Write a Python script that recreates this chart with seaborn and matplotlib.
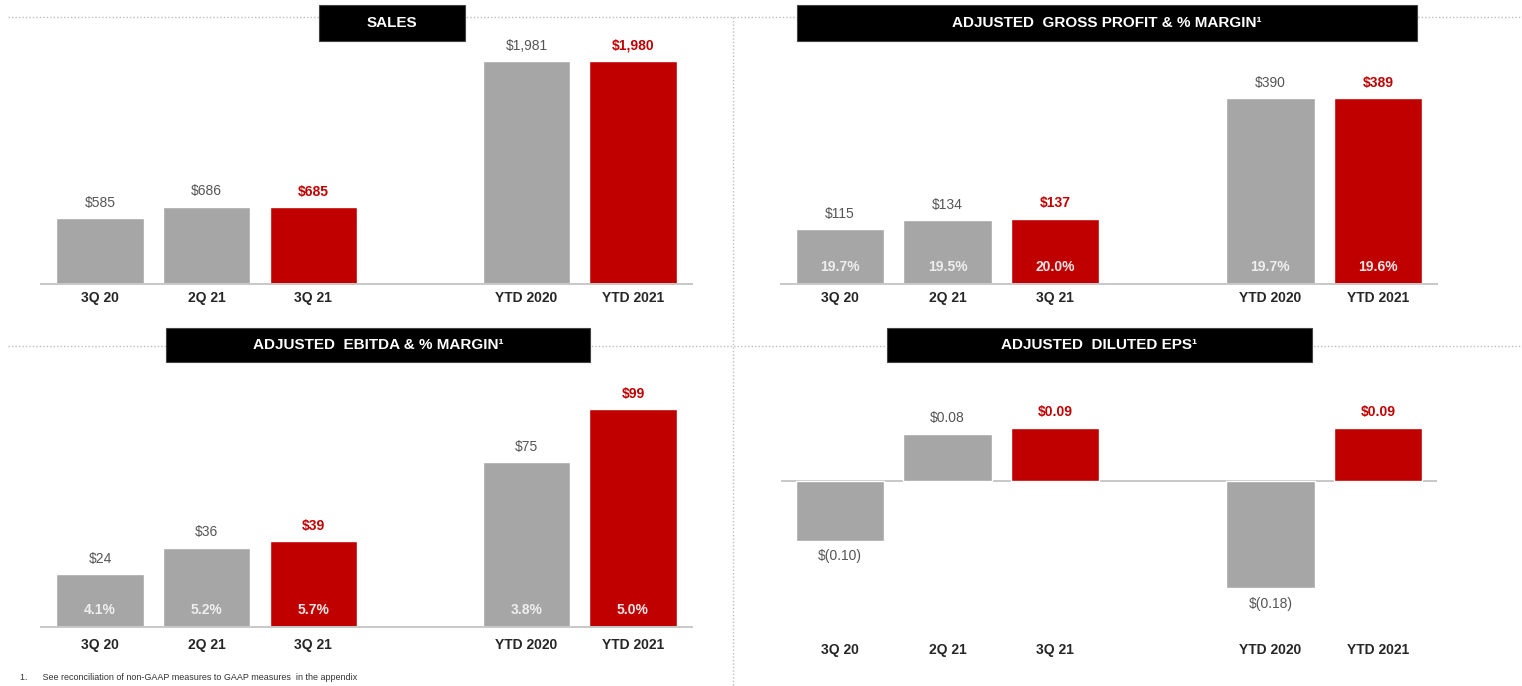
import matplotlib
matplotlib.use("Agg")
import matplotlib.pyplot as plt
import seaborn as sns
import pandas as pd
from matplotlib import font_manager
from matplotlib.patches import Rectangle
from matplotlib.lines import Line2D

# ---------------- data ----------------
categories = ["3Q 20", "2Q 21", "3Q 21", "YTD 2020", "YTD 2021"]
highlight = [False, False, True, False, True]

sales = [585, 686, 685, 1981, 1980]
sales_labels = ["$585", "$686", "$685", "$1,981", "$1,980"]

gross_profit = [115, 134, 137, 390, 389]
gross_labels = ["$115", "$134", "$137", "$390", "$389"]
gross_margin = ["19.7%", "19.5%", "20.0%", "19.7%", "19.6%"]

ebitda = [24, 36, 39, 75, 99]
ebitda_labels = ["$24", "$36", "$39", "$75", "$99"]
ebitda_margin = ["4.1%", "5.2%", "5.7%", "3.8%", "5.0%"]

eps = [-0.10, 0.08, 0.09, -0.18, 0.09]
eps_labels = ["$(0.10)", "$0.08", "$0.09", "$(0.18)", "$0.09"]

titles = ["SALES", "ADJUSTED  GROSS PROFIT & % MARGIN\u00b9",
          "ADJUSTED  EBITDA & % MARGIN\u00b9", "ADJUSTED  DILUTED EPS\u00b9"]
footnote = "1.      See reconciliation of non-GAAP measures to GAAP measures  in the appendix"

# ---------------- style ----------------
GRAY, RED = "#A6A6A6", "#C00000"
sns.set_style("white")
names = {f.name for f in font_manager.fontManager.ttflist}
fam = "Liberation Sans Narrow" if "Liberation Sans Narrow" in names else "Liberation Sans"
plt.rcParams["font.family"] = [fam, "DejaVu Sans"]

W, H = 1522, 686
fig = plt.figure(figsize=(W / 100, H / 100), dpi=100)
fig.patch.set_facecolor("white")


def px_rect(x0, y0, x1, y1):
    return [x0 / W, 1 - y1 / H, (x1 - x0) / W, (y1 - y0) / H]


gap = " "
order = categories[:3] + [gap] + categories[3:]
palette = {c: (RED if h else GRAY) for c, h in zip(categories, highlight)}


def panel(rect, values, labels, ylim, margins=None, eps_mode=False, pad=5):
    ax = fig.add_axes(rect)
    df = pd.DataFrame({"cat": categories, "val": values})
    sns.barplot(data=df, x="cat", y="val", hue="cat", order=order, palette=palette,
                saturation=1, width=0.82, legend=False, ax=ax, errorbar=None)
    ax.set_xlim(-0.55, 5.55)
    ax.set_ylim(*ylim)
    ax.set_xlabel("")
    ax.set_ylabel("")
    ax.set_yticks([])
    for s in ["top", "right", "left"]:
        ax.spines[s].set_visible(False)
    if eps_mode:
        ax.spines["bottom"].set_visible(False)
        ax.axhline(0, color="#C8C8C8", lw=1.4, zorder=0)
    else:
        ax.spines["bottom"].set_color("#C8C8C8")
        ax.spines["bottom"].set_linewidth(1.4)
    ax.tick_params(axis="x", length=0, pad=pad)
    for t in ax.get_xticklabels():
        t.set_fontweight("bold")
        t.set_fontsize(10)
        t.set_color("#262626")
    ax.patch.set_alpha(0)
    for i, c in enumerate(categories):
        x = order.index(c)
        v = values[i]
        col = RED if highlight[i] else "#555555"
        wt = "bold" if highlight[i] else "normal"
        if v >= 0:
            ax.annotate(labels[i], (x, v), xytext=(0, 6), textcoords="offset points",
                        ha="center", va="bottom", fontsize=10, color=col, fontweight=wt)
        else:
            ax.annotate(labels[i], (x, v), xytext=(0, -6), textcoords="offset points",
                        ha="center", va="top", fontsize=10, color=col, fontweight=wt)
        if margins is not None:
            mc = "#F3E6E6" if highlight[i] else "#EEEEEE"
            ax.annotate(margins[i], (x, 0), xytext=(0, 12.5), textcoords="offset points",
                        ha="center", va="center", fontsize=10, color=mc, fontweight="bold")
    return ax


panel(px_rect(41.4, 45, 691.6, 284), sales, sales_labels, (0, 1981 * 239 / 223))
panel(px_rect(780.8, 45, 1437.2, 284), gross_profit, gross_labels, (0, 390 * 239 / 186), gross_margin)
panel(px_rect(41.4, 370, 691.6, 627), ebitda, ebitda_labels, (0, 99 * 257 / 218), ebitda_margin, pad=8)
panel(px_rect(780.8, 370, 1437.2, 636), eps, eps_labels, (-0.26, 0.187), eps_mode=True)

# dotted separators
dot = dict(color="#BDBDBD", lw=1.0, ls=(0, (1, 1.5)), transform=fig.transFigure, zorder=1)
fig.add_artist(Line2D([8 / W, 1], [1 - 17 / H] * 2, **dot))
fig.add_artist(Line2D([8 / W, 1], [1 - 346 / H] * 2, **dot))
fig.add_artist(Line2D([733 / W] * 2, [1 - 17 / H, 0], **dot))

# title boxes
boxes = [(319, 5, 465, 41), (797, 5, 1417, 41), (166, 328, 590, 362), (887, 328, 1312, 362)]
for (x0, y0, x1, y1), t in zip(boxes, titles):
    fig.add_artist(Rectangle((x0 / W, 1 - y1 / H), (x1 - x0) / W, (y1 - y0) / H,
                             transform=fig.transFigure, facecolor="black",
                             edgecolor="#444444", lw=0.8, zorder=5))
    fig.text((x0 + x1) / 2 / W, 1 - (y0 + y1) / 2 / H, t, ha="center", va="center",
             color="white", fontweight="bold", fontsize=11, zorder=6)

fig.text(20 / W, 1 - 678 / H, footnote, ha="left", va="center", fontsize=6.5, color="#333333")

fig.savefig("out.png", dpi=100, facecolor="white")
